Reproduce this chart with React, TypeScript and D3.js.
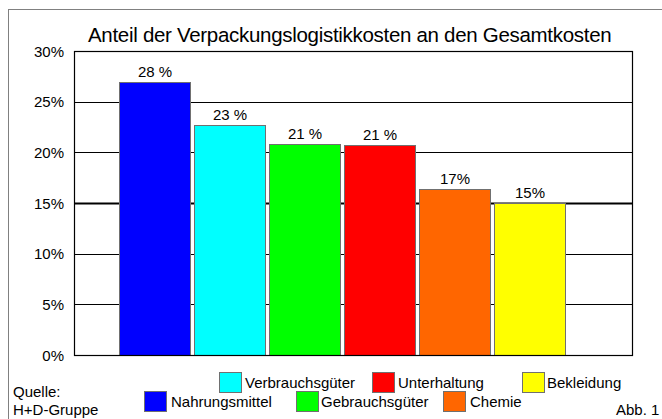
import * as d3 from "d3";
import { useRef, useEffect } from "react";

const categories = ["Nahrungsmittel", "Verbrauchsgüter", "Gebrauchsgüter", "Unterhaltung", "Chemie", "Bekleidung"];
const values = [26.9, 22.7, 20.8, 20.7, 16.4, 15.0];
const valueLabels = ["28 %", "23 %", "21 %", "21 %", "17%", "15%"];
const colors = ["#0000ff", "#00ffff", "#00ff00", "#ff0000", "#ff6600", "#ffff00"];
const yTicks = [0, 5, 10, 15, 20, 25, 30];

// legend layout: [row, swatch x, text x] in category order
const legendPos = [
  [1, 144, 171],
  [0, 219, 245],
  [1, 296, 321],
  [0, 372, 398],
  [1, 443, 470],
  [0, 522, 547],
];

export default function App() {
  const svgRef = useRef<SVGSVGElement>(null);

  useEffect(() => {
    const width = 662;
    const height = 419;
    const left = 74, right = 632, top = 51, bottom = 355;
    const font = "'Liberation Sans', Arial, sans-serif";

    const svg = d3.select(svgRef.current);
    svg.selectAll("*").remove();
    svg.attr("width", width).attr("height", height);

    svg.append("rect").attr("width", width).attr("height", height).attr("fill", "#fff");

    // outer frame
    svg.append("rect")
      .attr("x", 8.5).attr("y", 9.5)
      .attr("width", 700).attr("height", 500)
      .attr("fill", "none").attr("stroke", "#808080");

    svg.append("text")
      .attr("x", 88).attr("y", 42)
      .attr("font-family", font).attr("font-size", 20.5)
      .attr("letter-spacing", -0.3)
      .text("Anteil der Verpackungslogistikkosten an den Gesamtkosten");

    const y = d3.scaleLinear().domain([0, 30]).range([bottom, top]);
    const x = d3.scaleBand().domain(categories).range([117.5, 567.5]).paddingInner(0.04).paddingOuter(0.02);

    // gridlines
    svg.append("g").selectAll("line")
      .data(yTicks)
      .enter()
      .append("line")
      .attr("x1", left).attr("x2", right)
      .attr("y1", (d) => Math.round(y(d)) + 0.5)
      .attr("y2", (d) => Math.round(y(d)) + 0.5)
      .attr("stroke", "#000")
      .attr("stroke-width", (d) => (d === 15 ? 2 : 1));

    svg.append("g").selectAll("text")
      .data(yTicks)
      .enter()
      .append("text")
      .attr("x", 64)
      .attr("y", (d) => y(d) + 5.5)
      .attr("text-anchor", "end")
      .attr("font-family", font).attr("font-size", 15)
      .text((d) => d + "%");

    // bars
    svg.append("g").selectAll("rect")
      .data(values)
      .enter()
      .append("rect")
      .attr("x", (d, i) => x(categories[i])! + 0.5)
      .attr("y", (d) => Math.round(y(d)) + 0.5)
      .attr("width", x.bandwidth() - 1)
      .attr("height", (d) => bottom - Math.round(y(d)))
      .attr("fill", (d, i) => colors[i])
      .attr("stroke", "#707070")
      .attr("stroke-width", 1);

    svg.append("g").selectAll("text")
      .data(values)
      .enter()
      .append("text")
      .attr("x", (d, i) => x(categories[i])! + x.bandwidth() / 2)
      .attr("y", (d) => y(d) - 5)
      .attr("text-anchor", "middle")
      .attr("font-family", font).attr("font-size", 15)
      .text((d, i) => valueLabels[i]);

    // plot frame
    svg.append("rect")
      .attr("x", left + 0.5).attr("y", top + 0.5)
      .attr("width", right - left).attr("height", bottom - top)
      .attr("fill", "none").attr("stroke", "#000").attr("stroke-width", 1.2);

    // legend
    const rowY = [372, 391];
    const lg = svg.append("g").selectAll("g")
      .data(categories)
      .enter()
      .append("g");
    lg.append("rect")
      .attr("x", (d, i) => legendPos[i][1] + 0.5)
      .attr("y", (d, i) => rowY[legendPos[i][0]] + 0.5)
      .attr("width", 22).attr("height", 20)
      .attr("fill", (d, i) => colors[i])
      .attr("stroke", "#707070");
    lg.append("text")
      .attr("x", (d, i) => legendPos[i][2])
      .attr("y", (d, i) => rowY[legendPos[i][0]] + 15.5)
      .attr("font-family", font).attr("font-size", 15)
      .text((d) => d);

    svg.append("text").attr("x", 13).attr("y", 397)
      .attr("font-family", font).attr("font-size", 15).text("Quelle:");
    svg.append("text").attr("x", 13).attr("y", 415)
      .attr("font-family", font).attr("font-size", 15).text("H+D-Gruppe");
    svg.append("text").attr("x", 616).attr("y", 415)
      .attr("font-family", font).attr("font-size", 15).text("Abb. 1");
  }, []);

  return (
    <div style={{ position: "absolute", left: 0, top: 0 }}>
      <svg ref={svgRef} style={{ display: "block" }}></svg>
    </div>
  );
}
